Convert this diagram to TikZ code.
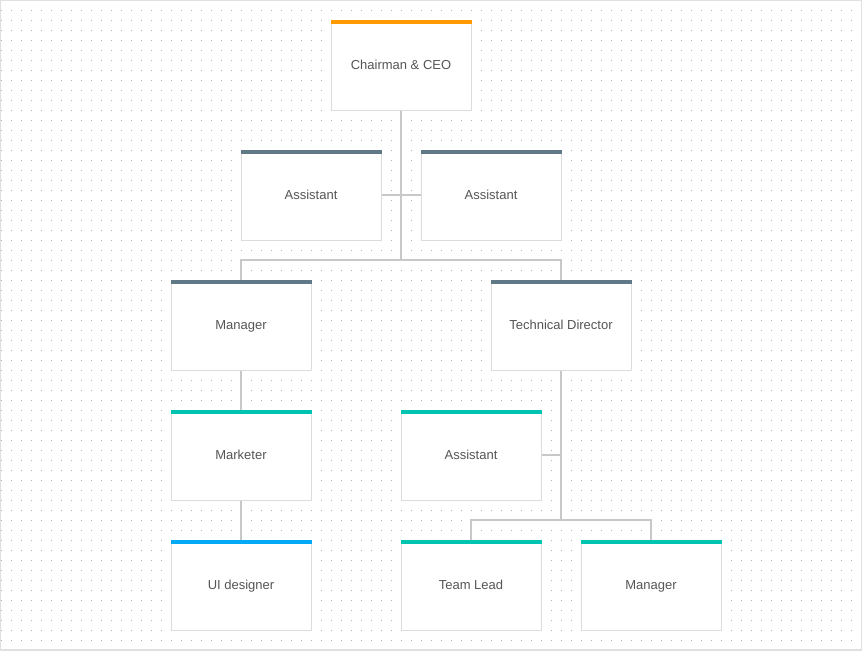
\documentclass[tikz,border=0pt]{standalone}
\usepackage{fontspec}
\setmainfont{Liberation Sans}
\usepackage{tikz}
\usetikzlibrary{calc}
\definecolor{barorange}{HTML}{FF9A00}
\definecolor{barslate}{HTML}{5F7A86}
\definecolor{barteal}{HTML}{00C3B0}
\definecolor{barblue}{HTML}{03A9F4}
\definecolor{cardedge}{HTML}{DCDCDC}
\definecolor{linkgray}{HTML}{C8C8C8}
\definecolor{dotgray}{HTML}{B0B0B0}
\definecolor{cardtext}{HTML}{555555}

\begin{document}
\begin{tikzpicture}[x=0.75pt,y=-0.75pt,
    card/.style={draw=cardedge, fill=white, line width=0.75pt, minimum width=105pt, minimum height=67.5pt, inner sep=0pt, text height=7pt, text depth=0pt, text=cardtext, font=\fontsize{9.75}{12}\selectfont},
    link/.style={draw=linkgray, line width=1.5pt}]
			\useasboundingbox (0,0) rectangle (862,650);
			\fill[white] (0,0) rectangle (862,650);
			\foreach \x in {0,...,86}
				\foreach \y in {1,...,64}
					\fill[dotgray] (\x*10+0.5,\y*10-0.5) rectangle ++(1,1);
			\draw[color=black!12!white, line width=1.5pt] (0,0) rectangle (862,650);
			\node[card] (ceo) at (401,65) {Chairman \& CEO};
			\node[card] (asl) at (311,195) {Assistant};
			\node[card] (asr) at (491,195) {Assistant};
			\node[card] (mgr) at (241,325) {Manager};
			\node[card] (tdir) at (561,325) {Technical Director};
			\node[card] (mkt) at (241,455) {Marketer};
			\node[card] (uid) at (241,585) {UI designer};
			\node[card] (ast) at (471,455) {Assistant};
			\node[card] (lead) at (471,585) {Team Lead};
			\node[card] (mgrb) at (651,585) {Manager};
			\foreach \n/\c in {ceo/barorange,asl/barslate,asr/barslate,mgr/barslate,tdir/barslate,mkt/barteal,ast/barteal,lead/barteal,mgrb/barteal,uid/barblue}
				\fill[\c] (\n.north west) rectangle ([yshift=-3pt]\n.north east);
			\draw[link] (ceo.south) |- ($(mgr.north)+(0,-20)$) -- (mgr.north);
			\draw[link] (ceo.south) |- ($(tdir.north)+(0,-20)$) -- (tdir.north);
			\draw[link] (asl.east) -- (asr.west);
			\draw[link] (mgr.south) -- (mkt.north);
			\draw[link] (mkt.south) -- (uid.north);
			\draw[link] (tdir.south) |- ($(lead.north)+(0,-20)$) -- (lead.north);
			\draw[link] (tdir.south) |- ($(mgrb.north)+(0,-20)$) -- (mgrb.north);
			\draw[link] (ast.east) -- (ast.east -| tdir.south);
		\end{tikzpicture}
\end{document}
